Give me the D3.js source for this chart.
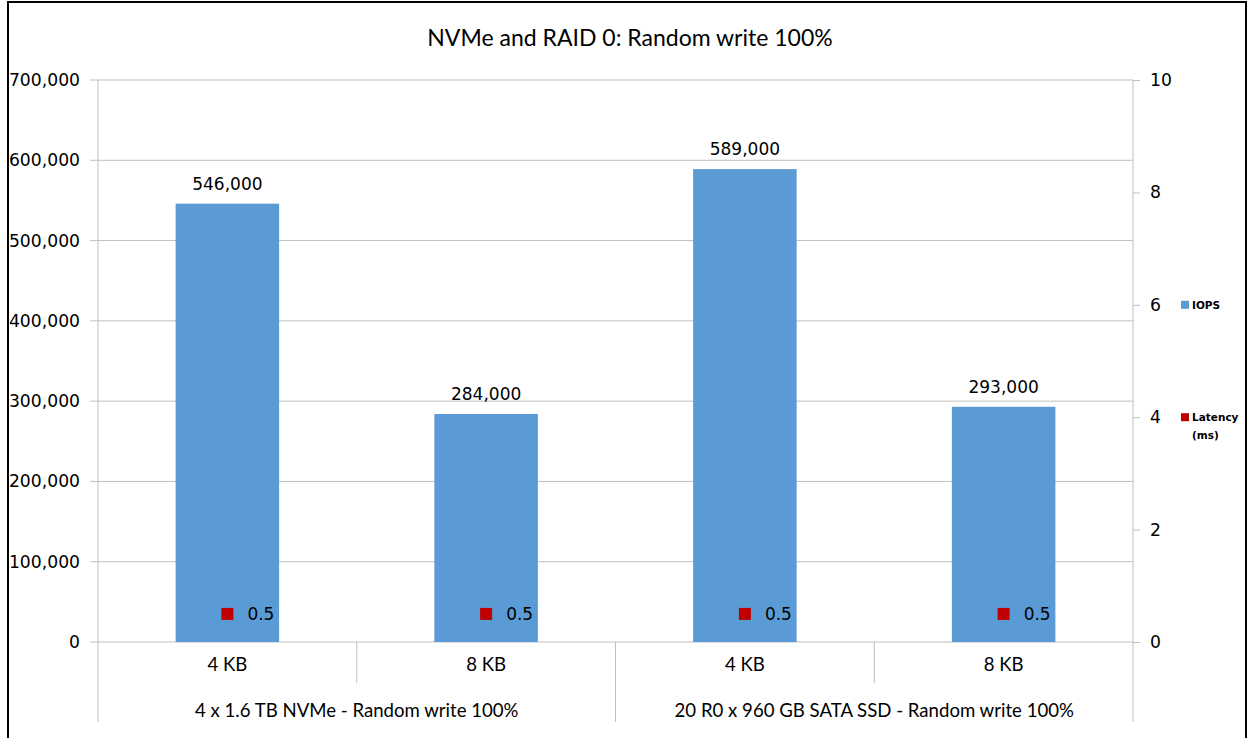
<!DOCTYPE html>
<html><head><meta charset="utf-8">
<script src="https://cdn.jsdelivr.net/npm/d3@7"></script>
<style>body{margin:0;background:#fff}svg{display:block}</style>
</head><body>
<svg id="c" width="1248" height="738"></svg>
<script>
const title = "NVMe and RAID 0: Random write 100%";
const groups = ["4 x 1.6 TB NVMe - Random write 100%", "20 R0 x 960 GB SATA SSD - Random write 100%"];
const blockSizes = ["4 KB", "8 KB", "4 KB", "8 KB"];
const groupIndex = [0, 0, 1, 1];
const iops = [546000, 284000, 589000, 293000];
const latency = [0.5, 0.5, 0.5, 0.5];
const leftTicks = [0, 100000, 200000, 300000, 400000, 500000, 600000, 700000];
const rightTicks = [0, 2, 4, 6, 8, 10];
const legendItems = [["IOPS"], ["Latency", "(ms)"]];

const svg = d3.select("#c");
const L = 98, R = 1133, T = 80, B = 642;
const axisFont = "'DejaVu Sans', Verdana, sans-serif";
const labFont = "Lato, 'Open Sans', sans-serif";

// frame
svg.append("rect").attr("x", 8).attr("y", 2).attr("width", 1238).attr("height", 760)
  .attr("fill", "none").attr("stroke", "#000").attr("stroke-width", 2);

const idx = d3.range(iops.length);
const x = d3.scaleBand().domain(idx).range([L, R]).paddingInner(0).paddingOuter(0);
const y = d3.scaleLinear().domain([0, 700000]).range([B, T]);
const y2 = d3.scaleLinear().domain([0, 10]).range([B, T]);

// gridlines
svg.append("g").selectAll("line").data(leftTicks).join("line")
  .attr("x1", L - 8).attr("x2", R).attr("y1", d => y(d)).attr("y2", d => y(d))
  .attr("stroke", "#bfbfbf").attr("stroke-width", 1);

// left axis
const la = svg.append("g").attr("transform", `translate(${L},0)`)
  .call(d3.axisLeft(y).tickValues(leftTicks).tickSize(0).tickPadding(18).tickFormat(d3.format(",")));
la.select(".domain").attr("stroke", "#bfbfbf").attr("d", `M0,${T}V${B + 80}`);
la.selectAll("text").attr("font-family", axisFont).attr("font-size", 17.2).attr("fill", "#000");

// right axis
const ra = svg.append("g").attr("transform", `translate(${R},0)`)
  .call(d3.axisRight(y2).tickValues(rightTicks).tickSize(7).tickPadding(10).tickFormat(d3.format("d")));
ra.select(".domain").attr("stroke", "#bfbfbf").attr("d", `M0,${T}V${B + 80}`);
ra.selectAll(".tick line").attr("stroke", "#bfbfbf");
ra.selectAll("text").attr("font-family", axisFont).attr("font-size", 17.2).attr("fill", "#000");

// bars
const bw = x.bandwidth() * 0.4;
svg.append("g").selectAll("rect").data(idx).join("rect")
  .attr("x", i => x(i) + x.bandwidth() / 2 - bw / 2).attr("width", bw)
  .attr("y", i => y(iops[i])).attr("height", i => y(0) - y(iops[i]))
  .attr("fill", "#5B9BD5");

// bar labels
svg.append("g").selectAll("text").data(idx).join("text")
  .attr("x", i => x(i) + x.bandwidth() / 2).attr("y", i => y(iops[i]) - 14)
  .attr("text-anchor", "middle").attr("font-family", axisFont).attr("font-size", 17)
  .text(i => d3.format(",")(iops[i]));

// latency markers
svg.append("g").selectAll("rect").data(idx).join("rect")
  .attr("x", i => x(i) + x.bandwidth() / 2 - 6).attr("y", i => y2(latency[i]) - 6)
  .attr("width", 12).attr("height", 12).attr("fill", "#C00000");
svg.append("g").selectAll("text").data(idx).join("text")
  .attr("x", i => x(i) + x.bandwidth() / 2 + 20).attr("y", i => y2(latency[i]) + 6)
  .attr("font-family", axisFont).attr("font-size", 17)
  .text(i => latency[i]);

// x axis categories
svg.append("g").selectAll("line").data(idx.slice(1)).join("line")
  .attr("x1", i => x(i)).attr("x2", i => x(i)).attr("y1", B)
  .attr("y2", i => groupIndex[i] !== groupIndex[i - 1] ? B + 80 : B + 41)
  .attr("stroke", "#bfbfbf");
svg.append("g").selectAll("text").data(idx).join("text")
  .attr("x", i => x(i) + x.bandwidth() / 2).attr("y", 671)
  .attr("text-anchor", "middle").attr("font-family", labFont).attr("font-size", 18.6)
  .text(i => blockSizes[i]);
svg.append("g").selectAll("text").data(groups).join("text")
  .attr("x", (g, gi) => {
    const members = idx.filter(i => groupIndex[i] === gi);
    return (x(members[0]) + x(members[members.length - 1]) + x.bandwidth()) / 2;
  }).attr("y", 717)
  .attr("text-anchor", "middle").attr("font-family", labFont).attr("font-size", 18.6)
  .text(g => g);

// title
svg.append("text").attr("x", 630).attr("y", 46).attr("text-anchor", "middle")
  .attr("font-family", labFont).attr("font-size", 23).text(title);

// legend
const colors = ["#5B9BD5", "#C00000"];
const lyPos = [y2(6), y2(4)];
legendItems.forEach((lines, k) => {
  svg.append("rect").attr("x", 1181).attr("y", lyPos[k] - 4).attr("width", 8).attr("height", 8).attr("fill", colors[k]);
  lines.forEach((t, j) => {
    svg.append("text").attr("x", 1192).attr("y", lyPos[k] + 4 + j * 18)
      .attr("font-family", axisFont).attr("font-size", 10.5).attr("font-weight", "bold").text(t);
  });
});
</script>
</body></html>
